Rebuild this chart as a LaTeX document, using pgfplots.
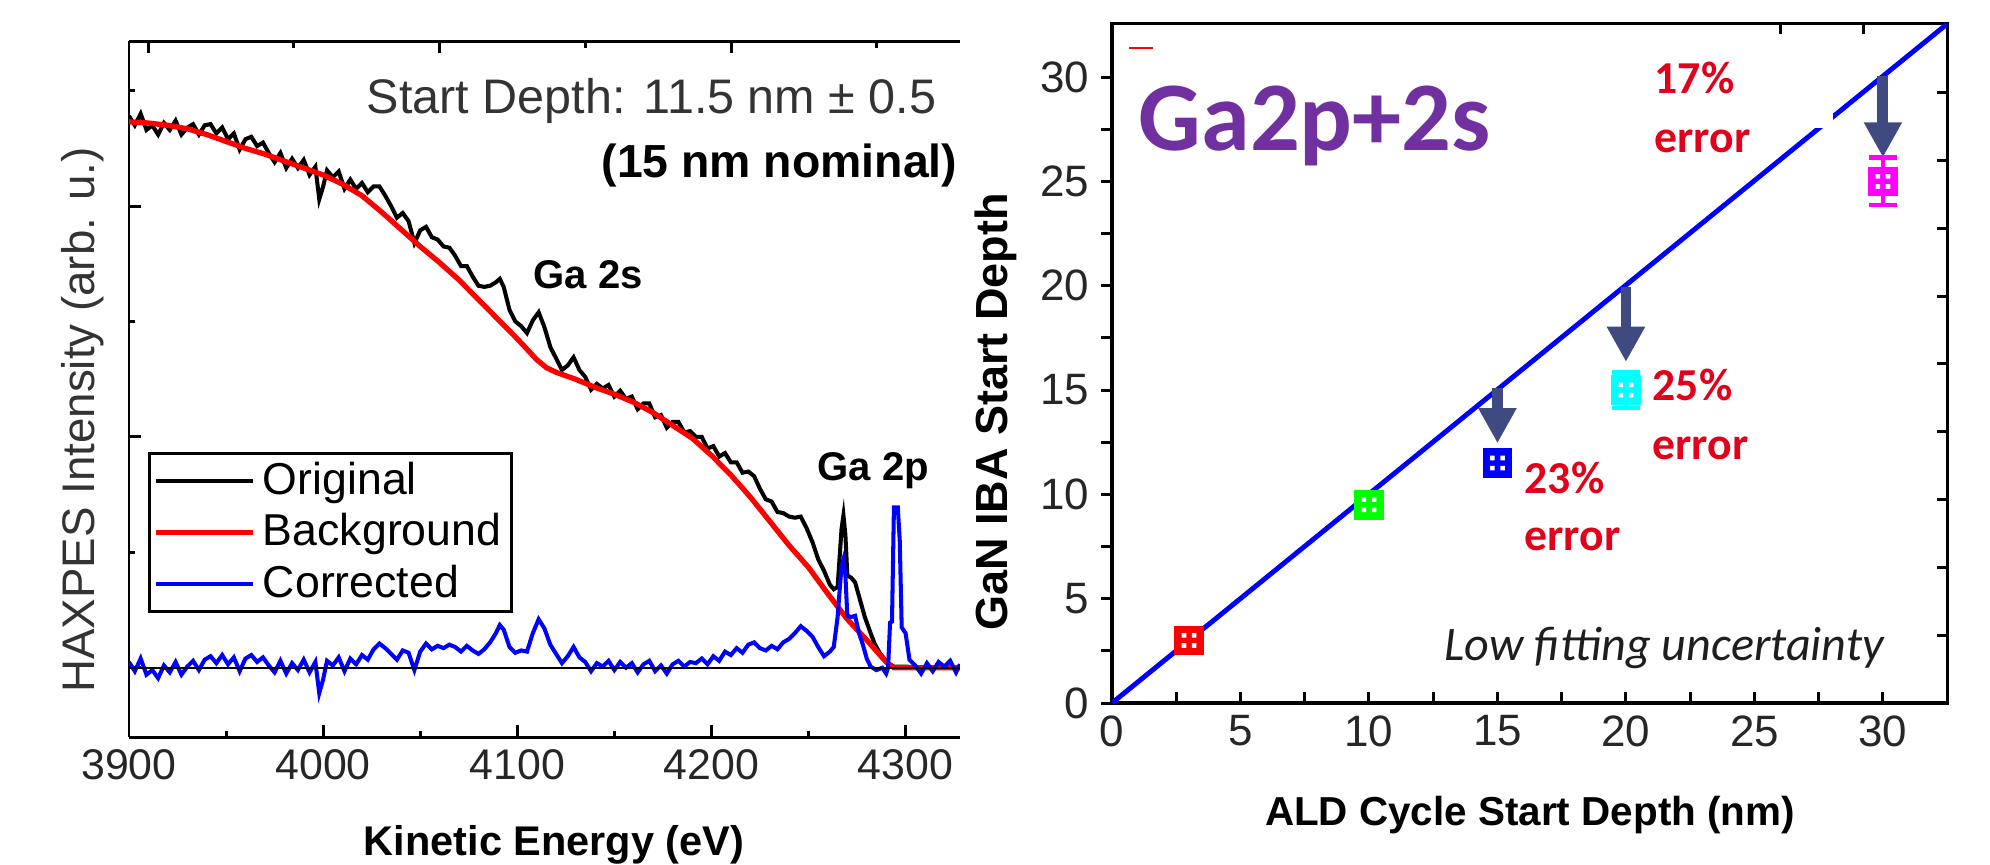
\documentclass[border=0pt]{standalone}
\usepackage{fontspec}
\setmainfont{Liberation Sans}
\newfontfamily\calibri{Carlito}
\usepackage{pgfplots}
\pgfplotsset{compat=1.18}
\usetikzlibrary{arrows.meta}

\definecolor{arrowc}{RGB}{62,74,128}
\definecolor{errred}{RGB}{226,0,26}
\definecolor{gapurple}{RGB}{112,48,160}
\definecolor{lbl}{RGB}{51,51,51}
\definecolor{tlbl}{RGB}{38,38,38}
\definecolor{mred}{RGB}{255,0,0}
\definecolor{mgreen}{RGB}{0,255,0}
\definecolor{mblue}{RGB}{0,0,255}
\definecolor{mcyan}{RGB}{0,255,255}
\definecolor{mmagenta}{RGB}{255,0,255}
\newcommand{\fs}[1]{\fontsize{#1}{#1}\selectfont}

\pgfdeclareplotmark{dsq}{%
  \pgfpathrectangle{\pgfqpoint{-3.9pt}{-3.9pt}}{\pgfqpoint{7.8pt}{7.8pt}}%
  \pgfusepathqfillstroke
  \pgfscope
  \pgfsetfillcolor{white}%
  \pgfpathrectangle{\pgfqpoint{-2.1pt}{-2.1pt}}{\pgfqpoint{1.3pt}{1.3pt}}%
  \pgfpathrectangle{\pgfqpoint{0.8pt}{-2.1pt}}{\pgfqpoint{1.3pt}{1.3pt}}%
  \pgfpathrectangle{\pgfqpoint{-2.1pt}{0.8pt}}{\pgfqpoint{1.3pt}{1.3pt}}%
  \pgfpathrectangle{\pgfqpoint{0.8pt}{0.8pt}}{\pgfqpoint{1.3pt}{1.3pt}}%
  \pgfusepathqfill
  \endpgfscope
}

\pgfplotstableread[row sep=\\]{
x y \\
3900 4.73 \\ 3910 4.72 \\ 3920 4.70 \\ 3930 4.67 \\ 3940 4.62 \\ 3950 4.56 \\
3960 4.50 \\ 3970 4.45 \\ 3980 4.39 \\ 3990 4.33 \\ 4000 4.27 \\ 4010 4.19 \\
4020 4.09 \\ 4030 3.95 \\ 4040 3.80 \\ 4050 3.65 \\ 4060 3.51 \\ 4070 3.36 \\
4080 3.19 \\ 4090 3.02 \\ 4100 2.85 \\ 4110 2.67 \\ 4115 2.60 \\ 4120 2.56 \\
4130 2.50 \\ 4140 2.43 \\ 4150 2.37 \\ 4160 2.30 \\ 4170 2.21 \\ 4180 2.10 \\
4190 1.99 \\ 4200 1.84 \\ 4210 1.67 \\ 4220 1.48 \\ 4230 1.27 \\ 4240 1.06 \\
4250 0.87 \\ 4260 0.64 \\ 4270 0.42 \\ 4280 0.24 \\ 4290 0.05 \\ 4294 0.00 \\
4328 0.00 \\
}\background

\pgfplotstableread[row sep=\\]{
x y \\
3900 4.78 \\ 3903 4.70 \\ 3906 4.80 \\ 3909 4.66 \\ 3912 4.70 \\ 3915 4.62 \\
3918 4.72 \\ 3921 4.66 \\ 3924 4.74 \\ 3927 4.62 \\ 3930 4.68 \\ 3933 4.71 \\
3936 4.62 \\ 3939 4.70 \\ 3942 4.71 \\ 3945 4.63 \\ 3948 4.68 \\ 3951 4.58 \\
3954 4.63 \\ 3957 4.49 \\ 3960 4.58 \\ 3963 4.60 \\ 3966 4.52 \\ 3969 4.55 \\
3972 4.46 \\ 3975 4.38 \\ 3978 4.46 \\ 3981 4.33 \\ 3984 4.41 \\ 3987 4.33 \\
3990 4.40 \\ 3993 4.27 \\ 3996 4.34 \\ 3998 4.06 \\ 4000 4.17 \\ 4002 4.31 \\
4005 4.25 \\ 4008 4.30 \\ 4011 4.15 \\ 4014 4.23 \\ 4017 4.15 \\ 4020 4.20 \\
4023 4.12 \\ 4026 4.17 \\ 4029 4.17 \\ 4032 4.09 \\ 4035 4.00 \\ 4038 3.90 \\
4041 3.94 \\ 4044 3.87 \\ 4047 3.68 \\ 4050 3.79 \\ 4053 3.82 \\ 4056 3.73 \\
4059 3.71 \\ 4062 3.65 \\ 4065 3.64 \\ 4068 3.57 \\ 4071 3.48 \\ 4074 3.48 \\
4077 3.39 \\ 4080 3.31 \\ 4083 3.30 \\ 4086 3.31 \\ 4089 3.34 \\ 4091 3.37 \\
4093 3.30 \\ 4096 3.10 \\ 4099 3.00 \\ 4102 2.96 \\ 4105 2.90 \\ 4108 3.01 \\
4111 3.08 \\ 4114 2.95 \\ 4117 2.78 \\ 4120 2.68 \\ 4123 2.58 \\ 4126 2.62 \\
4129 2.69 \\ 4132 2.58 \\ 4135 2.52 \\ 4138 2.41 \\ 4141 2.46 \\ 4144 2.42 \\
4147 2.45 \\ 4150 2.35 \\ 4153 2.40 \\ 4156 2.33 \\ 4159 2.35 \\ 4162 2.24 \\
4165 2.29 \\ 4168 2.29 \\ 4171 2.17 \\ 4174 2.19 \\ 4177 2.08 \\ 4180 2.13 \\
4183 2.13 \\ 4186 2.04 \\ 4189 2.05 \\ 4192 2.00 \\ 4195 2.00 \\ 4198 1.90 \\
4201 1.92 \\ 4204 1.83 \\ 4207 1.86 \\ 4210 1.78 \\ 4213 1.78 \\ 4216 1.69 \\
4219 1.70 \\ 4222 1.66 \\ 4225 1.55 \\ 4228 1.46 \\ 4231 1.44 \\ 4234 1.35 \\
4237 1.34 \\ 4240 1.31 \\ 4243 1.30 \\ 4246 1.31 \\ 4249 1.21 \\ 4252 1.09 \\
4255 0.94 \\ 4258 0.84 \\ 4261 0.72 \\ 4263 0.68 \\ 4265 0.70 \\ 4267 1.20 \\
4268 1.32 \\ 4269 1.15 \\ 4270 0.80 \\ 4272 0.78 \\ 4274 0.74 \\ 4276 0.62 \\
4279 0.44 \\ 4282 0.30 \\ 4284 0.21 \\ 4287 0.12 \\ 4291 0.04 \\ 4294 0.01 \\
4300 0.01 \\ 4310 0.00 \\ 4320 0.01 \\ 4328 0.00 \\
}\original

\pgfplotstableread[row sep=\\]{
x y \\
3900 0.05 \\ 3903 -0.03 \\ 3906 0.08 \\ 3909 -0.06 \\ 3912 -0.02 \\ 3915 -0.09 \\
3918 0.02 \\ 3921 -0.04 \\ 3924 0.05 \\ 3927 -0.06 \\ 3930 0.01 \\ 3933 0.06 \\
3936 -0.02 \\ 3939 0.07 \\ 3942 0.10 \\ 3945 0.04 \\ 3948 0.11 \\ 3951 0.03 \\
3954 0.09 \\ 3957 -0.03 \\ 3960 0.08 \\ 3963 0.11 \\ 3966 0.05 \\ 3969 0.09 \\
3972 0.02 \\ 3975 -0.04 \\ 3978 0.06 \\ 3981 -0.05 \\ 3984 0.04 \\ 3987 -0.02 \\
3990 0.07 \\ 3993 -0.04 \\ 3996 0.05 \\ 3998 -0.22 \\ 4000 -0.10 \\ 4002 0.06 \\
4005 0.02 \\ 4008 0.09 \\ 4011 -0.03 \\ 4014 0.08 \\ 4017 0.03 \\ 4020 0.11 \\
4023 0.07 \\ 4026 0.16 \\ 4029 0.21 \\ 4032 0.17 \\ 4035 0.12 \\ 4038 0.07 \\
4041 0.15 \\ 4044 0.13 \\ 4047 -0.02 \\ 4050 0.14 \\ 4053 0.21 \\ 4056 0.16 \\
4059 0.19 \\ 4062 0.17 \\ 4065 0.20 \\ 4068 0.18 \\ 4071 0.14 \\ 4074 0.19 \\
4077 0.15 \\ 4080 0.12 \\ 4083 0.16 \\ 4086 0.22 \\ 4089 0.30 \\ 4091 0.37 \\
4093 0.33 \\ 4096 0.18 \\ 4099 0.13 \\ 4102 0.15 \\ 4105 0.14 \\ 4108 0.30 \\
4111 0.42 \\ 4114 0.34 \\ 4117 0.20 \\ 4120 0.12 \\ 4123 0.04 \\ 4126 0.10 \\
4129 0.18 \\ 4132 0.09 \\ 4135 0.05 \\ 4138 -0.03 \\ 4141 0.04 \\ 4144 0.01 \\
4147 0.06 \\ 4150 -0.02 \\ 4153 0.05 \\ 4156 0.00 \\ 4159 0.04 \\ 4162 -0.04 \\
4165 0.03 \\ 4168 0.06 \\ 4171 -0.03 \\ 4174 0.02 \\ 4177 -0.05 \\ 4180 0.03 \\
4183 0.06 \\ 4186 0.01 \\ 4189 0.05 \\ 4192 0.04 \\ 4195 0.08 \\ 4198 0.03 \\
4201 0.10 \\ 4204 0.06 \\ 4207 0.14 \\ 4210 0.11 \\ 4213 0.17 \\ 4216 0.13 \\
4219 0.20 \\ 4222 0.22 \\ 4225 0.17 \\ 4228 0.15 \\ 4231 0.19 \\ 4234 0.16 \\
4237 0.22 \\ 4240 0.25 \\ 4243 0.30 \\ 4246 0.36 \\ 4249 0.32 \\ 4252 0.27 \\
4255 0.18 \\ 4258 0.10 \\ 4261 0.14 \\ 4263 0.18 \\ 4265 0.44 \\ 4267 0.88 \\
4268 0.94 \\ 4269 0.80 \\ 4270 0.45 \\ 4272 0.44 \\ 4274 0.45 \\ 4276 0.30 \\
4278 0.20 \\ 4280 0.08 \\ 4282 0.01 \\ 4285 -0.02 \\ 4288 0.00 \\ 4290 -0.05 \\
4291 0.00 \\ 4292 0.39 \\ 4293 0.40 \\ 4294 1.39 \\ 4296 1.39 \\ 4297 1.10 \\
4298 0.35 \\ 4300 0.30 \\ 4302 0.07 \\ 4305 0.02 \\ 4308 -0.05 \\ 4311 0.04 \\
4314 -0.03 \\ 4317 0.05 \\ 4320 0.01 \\ 4323 0.06 \\ 4326 -0.04 \\ 4328 0.03 \\
}\corrected

\begin{document}
\begin{tikzpicture}
\path[use as bounding box] (0pt,0pt) rectangle (566.155pt,-245.808pt);
\begin{scope}[x=0.2845pt,y=-0.2845pt]
  \coordinate (Lpos) at (129,737);
  \coordinate (Rpos) at (1112,703);
\end{scope}

% ---------------- left panel ----------------
\begin{axis}[
  at={(Lpos)}, anchor=south west, scale only axis,
  width=236.4pt, height=198.0pt,
  xmin=3900, xmax=4328, ymin=-0.6, ymax=5.43,
  axis x line*=bottom, axis y line*=left,
  axis line style={line width=0.85pt, black},
  xtick={3900,4000,4100,4200,4300}, minor xtick={3950,4050,4150,4250},
  ytick={0,2,4}, minor ytick={1,3,5}, yticklabels={},
  tick align=inside, major tick length=3.3pt, minor tick length=1.7pt,
  tick style={line width=0.85pt, black},
  tick label style={font=\fs{12.2}, color=tlbl},
  /pgf/number format/1000 sep={},
  /pgf/number format/assume math mode=true,
  legend cell align=left,
  legend style={at={(0.0229,0.178)}, anchor=south west, font=\fs{12.7},
    draw=black, line width=0.8pt, inner xsep=1pt, inner ysep=0.5pt,
    row sep=0pt},
  legend image code/.code={\draw[#1] (0pt,0pt) -- (27.8pt,0pt);},
]
\addplot[black, line width=1.15pt] table[x=x,y=y] {\original};
\addlegendentry{Original}
\addplot[mred, line width=1.5pt] table[x=x,y=y] {\background};
\addlegendentry{Background}
\addplot[mblue, line width=1.15pt] table[x=x,y=y] {\corrected};
\addlegendentry{Corrected}
\addplot[black, line width=0.7pt, forget plot] coordinates {(3900,0) (4328,0)};
\end{axis}

\begin{axis}[
  at={(Lpos)}, anchor=south west, scale only axis,
  width=236.4pt, height=198.0pt,
  xmin=0, xmax=1, ymin=0, ymax=1,
  axis x line*=top, axis y line=none,
  axis line style={line width=0.85pt, black},
  xtick={0.023,0.374,0.725}, minor xtick={0.198,0.549,0.900}, xticklabels={},
  tick align=inside, major tick length=3.3pt, minor tick length=2pt,
  tick style={line width=0.85pt, black},
]
\end{axis}

% ---------------- right panel ----------------
\begin{axis}[
  at={(Rpos)}, anchor=south west, scale only axis,
  width=237.6pt, height=193.2pt,
  xmin=0, xmax=32.5, ymin=0, ymax=32.55,
  axis line style={line width=0.9pt, black},
  tick pos=left,
  xtick={0,5,...,30}, ytick={0,5,...,30},
  minor x tick num=1, minor y tick num=1,
  xtick align=inside, ytick align=outside,
  major tick length=3pt, minor tick length=3pt,
  tick style={line width=0.85pt, black},
  tick label style={font=\fs{12.5}, color=tlbl},
  /pgf/number format/assume math mode=true,
  error bars/error bar style={line width=1.2pt},
  error bars/error mark options={rotate=90, mark size=3.9pt, line width=1.4pt},
]
\addplot[mblue, line width=1.4pt] coordinates {(0,0) (32.5,32.55)};
\draw[line width=3.1pt, color=arrowc, -{Triangle[width=10.2pt,length=10pt]}]
  (axis cs:15,15.1) -- (axis cs:15,12.45);
\draw[line width=3.1pt, color=arrowc, -{Triangle[width=10.2pt,length=10pt]}]
  (axis cs:20,19.95) -- (axis cs:20,16.35);
\draw[line width=3.1pt, color=arrowc, -{Triangle[width=10.2pt,length=10pt]}]
  (axis cs:30,30.05) -- (axis cs:30,26.15);
\addplot[only marks, mark=dsq, color=mred, mark options={fill=mred, draw=mred, line width=0.6pt},
  error bars/.cd, y dir=both, y explicit] coordinates {(3,3) +- (0,0.3)};
\addplot[only marks, mark=dsq, color=mgreen, mark options={fill=mgreen, draw=mgreen, line width=0.6pt},
  error bars/.cd, y dir=both, y explicit] coordinates {(10,9.5) +- (0,0.3)};
\addplot[only marks, mark=dsq, color=mblue, mark options={fill=mblue, draw=mblue, line width=0.6pt},
  error bars/.cd, y dir=both, y explicit] coordinates {(15,11.5) +- (0,0.3)};
\addplot[only marks, mark=dsq, color=mcyan, mark options={fill=mcyan, draw=mcyan, line width=0.6pt},
  error bars/.cd, y dir=both, y explicit] coordinates {(20,15) +- (0,0.86)};
\addplot[only marks, mark=dsq, color=mmagenta, mark options={fill=mmagenta, draw=mmagenta, line width=0.6pt},
  error bars/.cd, y dir=both, y explicit] coordinates {(30,25) +- (0,1.13)};
\end{axis}

\begin{axis}[
  at={(Rpos)}, anchor=south west, scale only axis,
  width=237.6pt, height=193.2pt,
  xmin=0, xmax=32.5, ymin=0, ymax=32.55,
  axis line style={draw=none},
  tick pos=right,
  xtick={26,29.25}, ytick={3.25,6.5,9.75,13,16.25,19.5,22.75,26,29.25},
  xticklabels={}, yticklabels={},
  tick align=inside, major tick length=3pt,
  tick style={line width=0.85pt, black},
]
\end{axis}

% ---------------- text ----------------
\begin{scope}[x=0.2845pt,y=-0.2845pt]
  % left panel
  \node[rotate=90, font=\fs{13}, text=lbl] at (83,420) {HAXPES Intensity (arb. u.)};
  \node[anchor=base, font=\bfseries\fs{11.8}] at (554,855) {Kinetic Energy (eV)};
  \node[anchor=base east, inner sep=0pt, font=\fs{13.8}, text=lbl] at (937,113) {Start Depth: 11.5 nm ± 0.5};
  \node[anchor=base east, inner sep=0pt, font=\bfseries\fs{13.2}] at (958,177) {(15 nm nominal)};
  \node[anchor=base west, inner sep=0pt, font=\bfseries\fs{11.4}] at (533,288) {Ga 2s};
  \node[anchor=base west, inner sep=0pt, font=\bfseries\fs{11.4}] at (817,480) {Ga 2p};
  % right panel
  \fill[white] (1765,100) rectangle (1833,128);
  \draw[mred, line width=0.6pt] (1129,48) -- (1153,48);
  \node[anchor=base west, inner sep=0pt, font=\calibri\bfseries\fs{28}, text=gapurple] at (1138,150) {Ga2p+2s};
  \node[anchor=base west, inner sep=0pt, font=\calibri\bfseries\fs{13}, text=errred] at (1654,93) {17\%};
  \node[anchor=base west, inner sep=0pt, font=\calibri\bfseries\fs{13}, text=errred] at (1654,152) {error};
  \node[anchor=base west, inner sep=0pt, font=\calibri\bfseries\fs{13}, text=errred] at (1652,400) {25\%};
  \node[anchor=base west, inner sep=0pt, font=\calibri\bfseries\fs{13}, text=errred] at (1652,459) {error};
  \node[anchor=base west, inner sep=0pt, font=\calibri\bfseries\fs{13}, text=errred] at (1524,493) {23\%};
  \node[anchor=base west, inner sep=0pt, font=\calibri\bfseries\fs{13}, text=errred] at (1524,550) {error};
  \node[anchor=base west, inner sep=0pt, font=\calibri\itshape\fs{13.7}, text={rgb,255:red,30;green,30;blue,30}] at (1444,660) {Low fitting uncertainty};
  \node[rotate=90, font=\bfseries\fs{12.8}] at (996,412) {GaN IBA Start Depth};
  \node[anchor=base, font=\bfseries\fs{11.5}] at (1530,825) {ALD Cycle Start Depth (nm)};
\end{scope}
\end{tikzpicture}
\end{document}
